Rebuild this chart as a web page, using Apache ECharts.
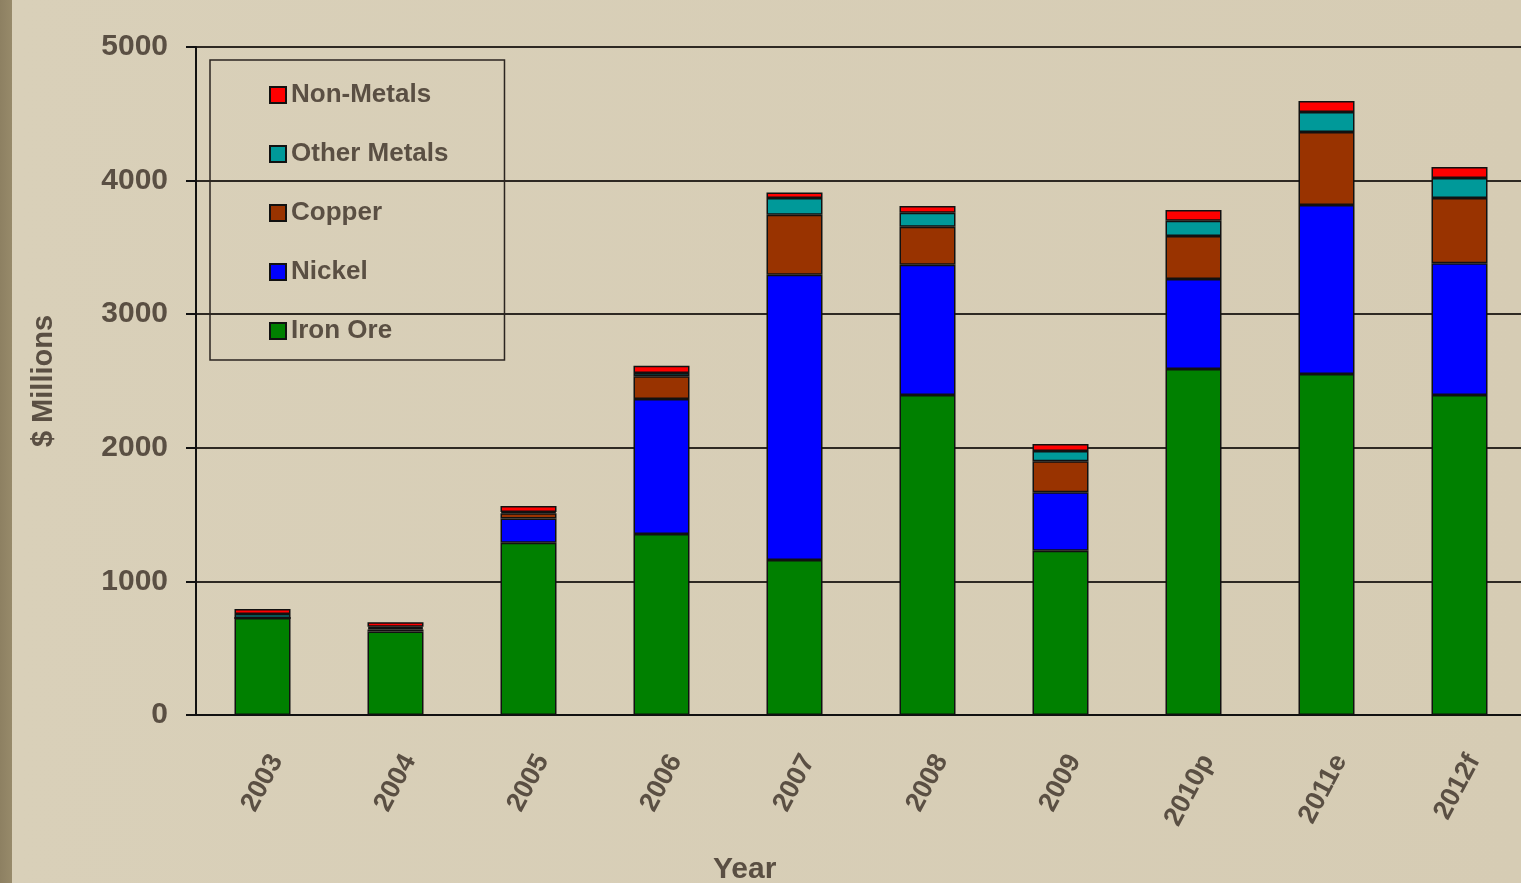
<!DOCTYPE html>
<html>
<head>
<meta charset="utf-8">
<script src="https://cdn.jsdelivr.net/npm/echarts@6/dist/echarts.min.js"></script>
<style>
    html, body { margin: 0; padding: 0; }
    body {
        width: 1521px; height: 883px; overflow: hidden;
        background: linear-gradient(to right, #8d8062 0, #978a6a 12px, #d9d0b9 12px, #d6ccb4 100%);
    }
    #chart { width: 1521px; height: 883px; }
</style>
</head>
<body>
<div id="chart"></div>
<script>
    'use strict';

    // Values, $ millions
    const years = ['2003', '2004', '2005', '2006', '2007', '2008', '2009', '2010p', '2011e', '2012f'];
    const ironOre = [726, 625, 1290, 1355, 1160, 2395, 1230, 2590, 2552, 2395];
    const nickel = [0, 15, 180, 1010, 2135, 975, 437, 673, 1265, 986];
    const copper = [0, 10, 40, 170, 450, 285, 232, 322, 547, 489];
    const otherMetals = [30, 10, 10, 25, 125, 105, 77, 115, 149, 149];
    const nonMetals = [37, 35, 45, 55, 40, 50, 52, 80, 83, 83];
    const yTicks = [0, 1000, 2000, 3000, 4000, 5000];

    const textColor = '#5a4f43';
    const font = 'Liberation Sans, Arial, sans-serif';

    function makeSeries (name, data, color) {
        return {
            name,
            type: 'bar',
            stack: 'total',
            barWidth: 56,
            data,
            itemStyle: { color, borderColor: '#111', borderWidth: 1.5 }
        };
    }

    const chart = echarts.init(document.getElementById('chart'));
    chart.setOption({
        animation: false,
        textStyle: { fontFamily: font },
        grid: { left: 196, top: 47, right: -5, bottom: 168, outerBoundsMode: 'none' },
        legend: {
            orient: 'vertical',
            left: 210,
            top: 60,
            padding: [22, 56, 16, 59],
            itemGap: 33,
            itemWidth: 16,
            itemHeight: 16,
            icon: 'rect',
            borderColor: '#2b2520',
            borderWidth: 1.5,
            data: ['Non-Metals', 'Other Metals', 'Copper', 'Nickel', 'Iron Ore'],
            textStyle: { color: textColor, fontSize: 26, fontWeight: 'bold', fontFamily: font, lineHeight: 24 }
        },
        graphic: [{
            type: 'text',
            left: 713,
            top: 855,
            style: { text: 'Year', fill: textColor, font: 'bold 30px ' + font }
        }],
        xAxis: {
            type: 'category',
            data: years,
            axisLine: { lineStyle: { color: '#111', width: 2 } },
            axisTick: { length: 8, lineStyle: { color: '#111', width: 2 } },
            axisLabel: {
                rotate: 62,
                align: 'center',
                verticalAlign: 'middle',
                margin: 68,
                formatter: '{a|{value}}',
                rich: {
                    a: {
                        width: 60,
                        align: 'right',
                        color: textColor,
                        fontSize: 27,
                        fontWeight: 'bold',
                        fontFamily: font
                    }
                }
            }
        },
        yAxis: {
            type: 'value',
            min: yTicks[0],
            max: yTicks[yTicks.length - 1],
            interval: 1000,
            name: '$ Millions',
            nameLocation: 'middle',
            nameGap: 138,
            nameTextStyle: { color: textColor, fontSize: 29, fontWeight: 'bold' },
            axisLine: { show: true, lineStyle: { color: '#111', width: 2 } },
            axisTick: { show: true, length: 10, lineStyle: { color: '#111', width: 2 } },
            axisLabel: {
                color: textColor,
                fontSize: 30,
                fontWeight: 'bold',
                margin: 28,
                formatter: (v) => String(v)
            },
            splitLine: { lineStyle: { color: '#2e2923', width: 2 } }
        },
        series: [
            makeSeries('Iron Ore', ironOre, '#008000'),
            makeSeries('Nickel', nickel, '#0000ff'),
            makeSeries('Copper', copper, '#993300'),
            makeSeries('Other Metals', otherMetals, '#009999'),
            makeSeries('Non-Metals', nonMetals, '#ff0000')
        ]
    });
</script>
</body>
</html>
